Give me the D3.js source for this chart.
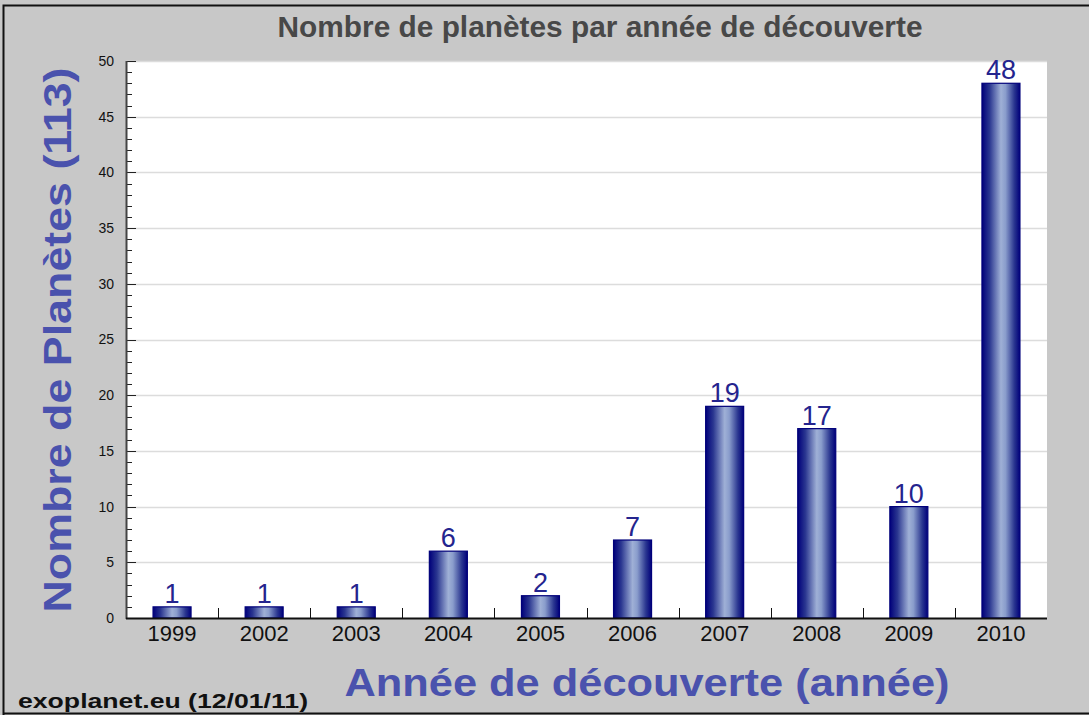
<!DOCTYPE html>
<html><head><meta charset="utf-8">
<script src="https://cdn.jsdelivr.net/npm/d3@7"></script>
<style>html,body{margin:0;padding:0;background:#c8c8c8;}svg{display:block;}</style>
</head><body>
<svg id="chart" width="1089" height="715"></svg>
<script>
const years = ["1999","2002","2003","2004","2005","2006","2007","2008","2009","2010"];
const counts = [1,1,1,6,2,7,19,17,10,48];
const yTicks = [0,5,10,15,20,25,30,35,40,45,50];
const titleText = "Nombre de planètes par année de découverte";
const xTitle = "Année de découverte (année)";
const yTitle = "Nombre de Planètes (113)";
const footer = "exoplanet.eu (12/01/11)";

const svg = d3.select("#chart");
const W = 1089, H = 715;
const m = {left:126, right:1047, top:61, bottom:618};

svg.append("rect").attr("width",W).attr("height",H).attr("fill","#c8c8c8");
// outer frame
svg.append("path").attr("d",`M3.5,${H} V5.5 H${W}`).attr("fill","none").attr("stroke","#111").attr("stroke-width",2);
svg.append("line").attr("x1",3).attr("x2",W).attr("y1",713.5).attr("y2",713.5).attr("stroke","#111").attr("stroke-width",2);

const defs = svg.append("defs");
const g = defs.append("linearGradient").attr("id","barg").attr("x1","0%").attr("x2","100%");
[[0,"#00007a"],[0.2,"#2a3690"],[0.5,"#9fb0d6"],[0.62,"#8a9dcc"],[0.85,"#2a3690"],[1,"#00007a"]].forEach(([o,c])=>g.append("stop").attr("offset",o).attr("stop-color",c));

const x = d3.scaleBand().domain(years).range([m.left,m.right]);
const y = d3.scaleLinear().domain([0,50]).range([m.bottom,m.top]);

svg.append("rect").attr("x",m.left).attr("y",m.top).attr("width",m.right-m.left).attr("height",m.bottom-m.top).attr("fill","#fff");

// gridlines
svg.append("g").selectAll("line").data(yTicks.filter(d=>d>0)).join("line")
  .attr("x1",m.left).attr("x2",m.right).attr("y1",d=>Math.round(y(d))+0.5).attr("y2",d=>Math.round(y(d))+0.5)
  .attr("stroke","#dcdcdc").attr("stroke-width",1.5);

// y axis: minor ticks inside
const minor = d3.range(0,51);
svg.append("g").selectAll("line").data(minor).join("line")
  .attr("x1",m.left).attr("x2",d=>d%5===0?m.left+10:m.left+6)
  .attr("y1",d=>Math.round(y(d))+0.5).attr("y2",d=>Math.round(y(d))+0.5)
  .attr("stroke","#222").attr("stroke-width",1);

const yAxis = d3.axisLeft(y).tickValues(yTicks).tickSize(0).tickPadding(12);
svg.append("g").attr("transform",`translate(${m.left},0)`).call(yAxis)
  .call(a=>a.select(".domain").remove())
  .selectAll("text").attr("font-family","Liberation Sans, Arial, sans-serif").attr("font-size",14).attr("fill","#111");

svg.append("line").attr("x1",m.left+0.5).attr("x2",m.left+0.5).attr("y1",m.top).attr("y2",m.bottom+1).attr("stroke","#444").attr("stroke-width",2);

// bars
const bw = 38;
svg.append("g").selectAll("rect").data(counts).join("rect")
  .attr("x",(d,i)=>x(years[i])+x.bandwidth()/2-bw/2)
  .attr("width",bw)
  .attr("y",d=>y(d))
  .attr("height",d=>y(0)-y(d))
  .attr("fill","url(#barg)").attr("stroke","#00007a").attr("stroke-width",1.2);

// value labels
svg.append("g").selectAll("text").data(counts).join("text")
  .attr("x",(d,i)=>x(years[i])+x.bandwidth()/2)
  .attr("y",d=>y(d)-4)
  .attr("text-anchor","middle")
  .attr("font-family","Liberation Sans, Arial, sans-serif").attr("font-size",27)
  .attr("fill","#24248e").text(d=>d);

// x axis
svg.append("line").attr("x1",m.left).attr("x2",m.right).attr("y1",m.bottom+0.5).attr("y2",m.bottom+0.5).attr("stroke","#111").attr("stroke-width",2);
svg.append("g").selectAll("line").data(years.slice(1)).join("line")
  .attr("x1",d=>Math.round(x(d))+0.5).attr("x2",d=>Math.round(x(d))+0.5)
  .attr("y1",m.bottom-10).attr("y2",m.bottom).attr("stroke","#111").attr("stroke-width",1);
const xAxis = d3.axisBottom(x).tickSize(0).tickPadding(7);
svg.append("g").attr("transform",`translate(0,${m.bottom})`).call(xAxis)
  .call(a=>a.select(".domain").remove())
  .selectAll("text").attr("font-family","Liberation Sans, Arial, sans-serif").attr("font-size",22).attr("fill","#111");

// title
svg.append("text").attr("x",600).attr("y",37).attr("text-anchor","middle")
  .attr("font-family","Liberation Sans, Arial, sans-serif").attr("font-size",30).attr("font-weight","bold")
  .attr("fill","#484848").attr("textLength",645).attr("lengthAdjust","spacingAndGlyphs").text(titleText);

// axis titles
svg.append("text").attr("x",647).attr("y",696).attr("text-anchor","middle")
  .attr("font-family","Liberation Sans, Arial, sans-serif").attr("font-size",38).attr("font-weight","bold")
  .attr("fill","#4a52ad").attr("textLength",605).attr("lengthAdjust","spacingAndGlyphs").text(xTitle);
svg.append("text").attr("transform","translate(71,340) rotate(-90)").attr("text-anchor","middle")
  .attr("font-family","Liberation Sans, Arial, sans-serif").attr("font-size",38).attr("font-weight","bold")
  .attr("fill","#4a52ad").attr("textLength",545).attr("lengthAdjust","spacingAndGlyphs").text(yTitle);

// footer
svg.append("text").attr("x",18).attr("y",708)
  .attr("font-family","Liberation Sans, Arial, sans-serif").attr("font-size",21).attr("font-weight","bold")
  .attr("fill","#111").attr("textLength",290).attr("lengthAdjust","spacingAndGlyphs").text(footer);
</script>
</body></html>
